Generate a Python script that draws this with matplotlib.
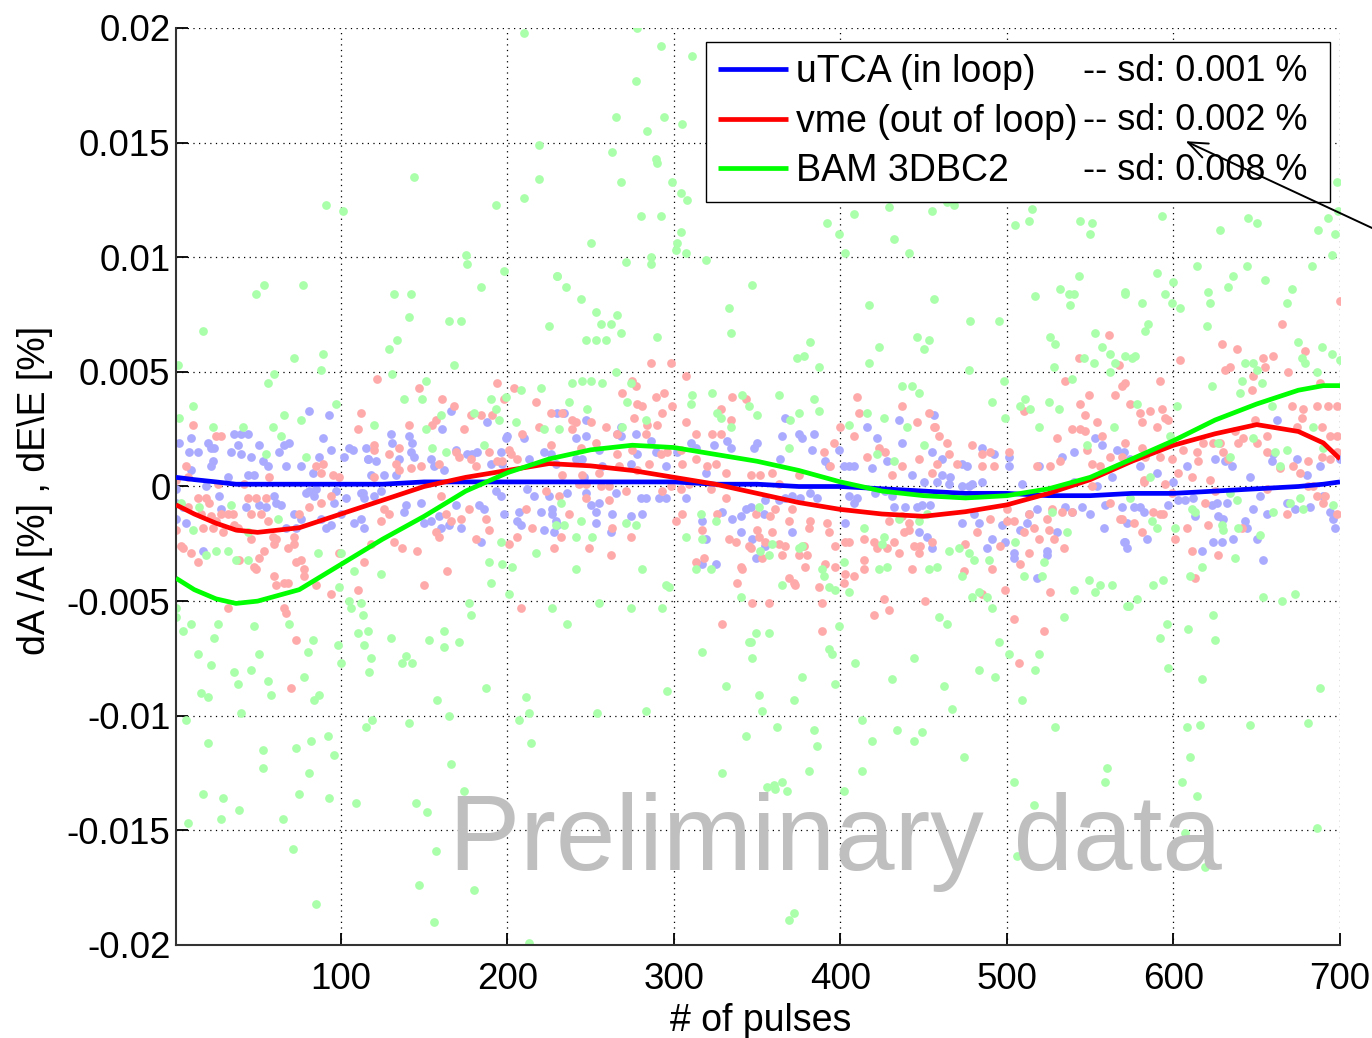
import matplotlib
matplotlib.use("Agg")
from matplotlib import pyplot as plt
import numpy as np

plt.rcParams['font.family'] = ['Liberation Sans', 'DejaVu Sans']

## fitted curves, common pulse grid
fit_x = [1, 12, 25, 37, 50, 75, 100, 125, 150, 175, 200, 225, 250, 275, 300, 325, 350,
         375, 400, 425, 450, 475, 500, 525, 550, 575, 600, 625, 650, 675, 690, 700]
utca_fit = [0.0004, 0.0003, 0.0002, 0.0001, 0.0001, 0.0001, 0.0001, 0.0001, 0.0002, 0.0002, 0.0002,
            0.0002, 0.0002, 0.0002, 0.0002, 0.0001, 0.0001, 0.0000, 0.0000, -0.0001, -0.0002, -0.0003,
            -0.0003, -0.0004, -0.0004, -0.0003, -0.0003, -0.0002, -0.0001, 0.0000, 0.0001, 0.0002]
vme_fit = [-0.0008, -0.0012, -0.0016, -0.0019, -0.0020, -0.0018, -0.0012, -0.0006, 0.0000, 0.0004, 0.0007,
           0.0010, 0.0009, 0.0007, 0.0004, 0.0001, -0.0003, -0.0007, -0.0010, -0.0012, -0.0013, -0.0011,
           -0.0008, -0.0003, 0.0003, 0.0011, 0.0018, 0.0023, 0.0027, 0.0024, 0.0019, 0.0012]
bam_fit = [-0.0040, -0.0045, -0.0049, -0.0051, -0.0050, -0.0045, -0.0034, -0.0023, -0.0013, -0.0002, 0.0006,
           0.0012, 0.0016, 0.0018, 0.0017, 0.0014, 0.0011, 0.0007, 0.0002, -0.0002, -0.0004, -0.0005,
           -0.0004, -0.0001, 0.0004, 0.0012, 0.0020, 0.0029, 0.0036, 0.0042, 0.0044, 0.0044]

## raw points (pulse, value)
utca_pts = [
    (81, .0033), (93, .0031), (3, .0019), (10, .0021), (9, .0015), (14, .0015), (20, .0019), (22, .0017),
    (24, .0017), (36, .0023), (40, .0023), (44, .0023), (38, .0018), (34, .0015), (40, .0014), (51, .0018),
    (46, .0013), (63, .0015), (66, .0018), (69, .0019), (89, .0021), (94, .0016), (53, .0011), (56, .0009),
    (67, .0009), (76, .0009), (83, .0006), (87, .0013), (22, .0009), (23, .0011), (10, .0007), (102, .0013),
    (105, .0017), (107, .0016), (115, .0017), (116, .0012), (32, .0004), (44, .0005), (48, .0005),
    (1, -.0001), (19, .0000), (27, -.0004), (1, -.0007), (5, -.0009), (7, -.0016), (1, -.0014), (28, -.0010),
    (43, -.0009), (51, -.0008), (55, -.0009), (60, -.0004), (61, -.0007), (64, -.0008), (72, -.0012),
    (79, -.0003), (81, -.0002), (84, -.0004), (67, -.0018), (73, -.0018), (76, -.0014), (17, -.0028),
    (88, -.0014), (91, -.0018), (94, -.0017), (85, -.0001), (97, -.0002), (103, -.0005), (112, -.0003),
    (114, -.0005), (96, -.0007), (100, -.0012), (112, -.0014), (108, -.0016), (114, -.0018),
    (130, .0023), (141, .0022), (131, .0019), (143, .0019), (116, .0012), (121, .0011), (135, .0012),
    (142, .0015), (144, .0013), (161, .0025), (166, .0033), (188, .0028), (154, .0012), (156, .0009),
    (162, .0007), (169, .0016), (179, .0014), (176, .0014), (182, .0015), (190, .0010), (197, .0010),
    (196, .0015), (200, .0022), (199, .0021), (210, .0021), (213, .0012), (222, .0015), (118, .0005),
    (126, .0005), (133, .0005), (230, .0032),
    (113, -.0003), (120, -.0004), (124, -.0002), (139, -.0008), (138, -.0011), (148, -.0007), (150, -.0016),
    (154, -.0015), (159, -.0013), (160, -.0018), (165, -.0017), (169, -.0008), (172, -.0018), (183, -.0008),
    (186, -.0010), (184, -.0024), (193, -.0002), (196, -.0004), (198, -.0012), (206, -.0015), (208, -.0017),
    (207, -.0011), (212, -.0001), (216, -.0004), (220, -.0011), (225, -.0004), (222, -.0019), (227, -.0010),
    (230, -.0017),
    (234, .0032), (247, .0029), (247, .0022), (266, .0023), (268, .0022), (268, .0026), (277, .0023),
    (286, .0020), (241, .0021), (226, .0014), (229, .0010), (255, .0016), (278, .0014), (289, .0015),
    (310, .0019), (313, .0017), (324, .0018), (332, .0020), (334, .0017), (302, .0015), (295, .0009),
    (274, .0010), (241, .0012), (245, .0012), (257, .0009), (246, .0004), (319, .0006),
    (236, -.0003), (247, -.0003), (250, -.0008), (253, -.0011), (255, -.0007), (253, -.0016), (263, -.0012),
    (262, -.0020), (265, -.0003), (274, -.0013), (281, -.0012), (280, -.0005), (283, -.0005), (291, -.0005),
    (295, -.0005), (227, -.0012), (229, -.0015), (228, -.0020), (307, -.0005), (317, -.0015), (319, -.0023),
    (317, -.0034), (325, -.0034), (329, -.0011), (335, -.0014), (340, -.0013), (343, -.0010), (340, -.0020),
    (367, .0030), (365, .0022), (348, .0017), (350, .0019), (375, .0023), (377, .0021), (384, .0023),
    (383, .0016), (364, .0012), (391, .0011), (393, .0009), (399, .0016), (402, .0009), (405, .0009),
    (408, .0009), (416, .0026), (422, .0021), (428, .0011), (419, .0008), (435, .0029), (437, .0019),
    (456, .0031), (455, .0015), (450, .0002), (443, .0005),
    (346, -.0009), (354, -.0012), (355, -.0006), (347, -.0023), (349, -.0031), (363, -.0006), (367, -.0005),
    (371, -.0004), (376, -.0005), (371, -.0020), (355, -.0026), (382, -.0003), (386, -.0005), (403, -.0016),
    (405, -.0004), (410, -.0005), (408, -.0007), (421, -.0003), (427, -.0002), (431, -.0004), (432, -.0009),
    (439, -.0009), (446, -.0009), (449, -.0008), (454, -.0008), (447, -.0020), (452, -.0022), (455, -.0027),
    (485, .0017), (492, .0014), (461, .0012), (473, .0010), (476, .0009), (461, .0005), (466, .0004),
    (479, .0001), (485, .0002), (501, .0013), (501, .0009), (509, .0001), (519, .0009), (533, .0013),
    (540, .0015), (553, .0021), (557, .0018), (566, .0016), (570, .0015), (563, .0004), (540, .0002),
    (458, .0002),
    (465, .0001), (473, .0000), (477, .0000), (480, -.0012), (483, -.0016), (473, -.0016), (491, -.0023),
    (488, -.0027), (497, -.0017), (499, -.0024), (504, -.0029), (504, -.0031), (508, -.0019), (512, -.0016),
    (513, -.0012), (518, -.0010), (524, -.0028), (524, -.0030), (530, -.0020), (518, -.0040), (535, -.0009),
    (539, -.0011), (545, -.0009), (550, -.0012), (558, -.0018), (559, -.0008), (569, -.0009), (571, -.0024),
    (572, -.0027), (554, .0000),
    (660, .0014), (659, .0011), (674, .0012), (688, .0009), (700, .0012), (646, .0004), (662, .0029),
    (680, .0005), (625, .0012), (631, .0011), (635, .0009), (608, .0009), (600, .0002), (590, .0006),
    (574, .0012), (580, .0009),
    (576, -.0009), (580, -.0009), (582, -.0011), (572, -.0016), (570, -.0024), (584, -.0023), (597, -.0008),
    (603, -.0006), (607, -.0006), (612, -.0005), (613, -.0013), (617, -.0028), (624, -.0024), (629, -.0024),
    (623, -.0008), (626, -.0007), (627, -.0013), (630, -.0014), (632, -.0007), (636, -.0023), (643, -.0015),
    (644, -.0018), (648, -.0010), (652, -.0004), (656, -.0012), (650, -.0023), (654, -.0032), (668, -.0007),
    (673, -.0010), (682, -.0009), (690, -.0004), (694, -.0011), (696, -.0014), (697, -.0018),
]

vme_pts = [
    (112, .0032), (110, .0025), (11, .0027), (25, .0022), (28, .0022), (7, .0009), (85, .0009), (89, .0010),
    (88, .0006), (1, .0003), (8, .0004), (57, .0004), (26, .0001), (42, .0001), (95, .0005), (99, .0004),
    (1, -.0019), (4, -.0026), (5, -.0027), (10, -.0029), (14, -.0033), (8, -.0009), (14, -.0005), (19, -.0005),
    (21, -.0007), (16, -.0012), (22, -.0013), (28, -.0012), (32, -.0012), (35, -.0012), (25, -.0015),
    (17, -.0018), (23, -.0018), (36, -.0017), (38, -.0018), (29, -.0020), (44, -.0005), (49, -.0005),
    (46, -.0012), (52, -.0012), (46, -.0023), (39, -.0032), (48, -.0035), (49, -.0036), (55, -.0005),
    (56, -.0015), (51, -.0031), (54, -.0028), (59, -.0022), (61, -.0023), (60, -.0025), (60, -.0039),
    (61, -.0043), (66, -.0042), (68, -.0042), (72, -.0022), (72, -.0025), (68, -.0027), (73, -.0033),
    (76, -.0032), (78, -.0036), (78, -.0039), (32, -.0053), (66, -.0053), (67, -.0055), (73, -.0067),
    (70, -.0088), (94, -.0047), (85, -.0043), (99, -.0029), (110, -.0045), (75, -.0012), (81, -.0009),
    (88, -.0007), (94, -.0004),
    (122, .0047), (147, .0043), (141, .0027), (161, .0038), (168, .0035), (157, .0029), (155, .0027),
    (174, .0025), (178, .0031), (184, .0031), (191, .0031), (194, .0045), (204, .0043), (198, .0038),
    (217, .0037), (226, .0032), (219, .0026), (209, .0023), (120, .0018), (120, .0016), (129, .0014),
    (135, .0017), (120, .0004), (133, .0010), (135, .0007), (142, .0008), (148, .0009), (159, .0010),
    (169, .0015), (171, .0013), (178, .0012), (181, .0009), (189, .0015), (194, .0011), (197, .0011),
    (201, .0016), (202, .0014), (206, .0012), (226, .0018),
    (114, -.0033), (118, -.0025), (126, -.0010), (129, -.0012), (124, -.0015), (132, -.0024), (137, -.0027),
    (146, -.0028), (150, -.0043), (164, -.0037), (157, -.0020), (159, -.0022), (163, -.0012), (166, -.0015),
    (160, -.0004), (172, -.0014), (181, -.0023), (187, -.0014), (189, -.0019), (177, -.0010), (201, -.0025),
    (208, -.0053), (206, -.0022), (211, -.0010), (215, -.0018), (228, -.0027), (223, -.0002),
    (286, .0054), (298, .0054), (307, .0048), (275, .0046), (277, .0044), (269, .0041), (289, .0039),
    (294, .0041), (278, .0036), (281, .0035), (299, .0035), (293, .0032), (233, .0032), (239, .0029),
    (241, .0028), (250, .0028), (259, .0026), (276, .0030), (284, .0027), (290, .0027), (307, .0028),
    (328, .0034), (334, .0029), (335, .0039), (343, .0038), (239, .0025), (266, .0023), (283, .0023),
    (313, .0023), (323, .0023), (328, .0023), (244, .0017), (253, .0019), (266, .0014), (275, .0016),
    (292, .0014), (296, .0015), (304, .0016), (305, .0010), (313, .0012), (320, .0009), (325, .0010),
    (331, .0006), (233, .0005), (245, .0005), (255, .0006), (267, .0009), (278, .0007), (285, .0010),
    (243, .0001), (247, .0001), (231, -.0004), (247, -.0005), (256, .0000), (261, .0000), (271, -.0002),
    (261, -.0006), (237, -.0012), (232, -.0022), (249, -.0027), (263, -.0018), (274, -.0022), (262, -.0030),
    (298, .0000), (293, -.0002), (304, -.0001), (309, .0001), (305, -.0012), (301, -.0015), (317, -.0019),
    (313, -.0033), (318, -.0031), (322, -.0001), (326, -.0012), (331, -.0005), (333, -.0023), (337, -.0024),
    (340, -.0035), (338, -.0042), (329, -.0060), (345, -.0026),
    (410, .0039), (437, .0035), (411, .0032), (453, .0032), (446, .0028), (457, .0026), (400, .0026),
    (408, .0022), (396, .0019), (390, .0015), (423, .0017), (427, .0015), (416, .0013), (394, .0009),
    (431, .0005), (437, .0009), (447, .0012), (455, .0006), (359, .0006), (352, .0005), (346, .0005),
    (363, .0001), (375, .0005),
    (361, -.0010), (369, -.0015), (371, -.0010), (349, -.0012), (358, -.0013), (359, -.0020), (350, -.0019),
    (351, -.0022), (355, -.0024), (346, -.0027), (353, -.0031), (363, -.0025), (367, -.0026), (365, -.0030),
    (375, -.0030), (380, -.0030), (379, -.0035), (369, -.0040), (372, -.0042), (373, -.0043), (341, -.0036),
    (347, -.0051), (357, -.0051), (382, -.0015), (381, -.0018), (378, -.0026), (392, -.0016), (393, -.0020),
    (391, -.0034), (387, -.0044), (389, -.0051), (389, -.0063), (397, -.0026), (403, -.0024), (405, -.0024),
    (397, -.0035), (403, -.0038), (408, -.0039), (402, -.0042), (414, -.0032), (414, -.0036), (414, -.0023),
    (420, -.0024), (422, -.0027), (428, -.0027), (432, -.0024), (435, -.0029), (426, -.0049), (429, -.0054),
    (420, -.0056), (443, -.0036), (438, -.0020), (441, -.0019), (444, -.0026), (448, -.0026), (451, -.0050),
    (447, -.0029), (455, -.0024), (429, -.0015), (437, -.0013), (441, -.0016),
    (561, .0066), (543, .0056), (567, .0053), (535, .0046), (571, .0045), (549, .0040), (565, .0040),
    (544, .0036), (510, .0033), (547, .0031), (554, .0028), (539, .0025), (544, .0025), (547, .0024),
    (557, .0022), (530, .0021), (548, .0016), (456, .0026), (459, .0022), (464, .0019), (479, .0018),
    (485, .0014), (490, .0015), (465, .0014), (470, .0010), (458, .0010), (485, .0009), (492, .0009),
    (501, .0015), (518, .0009), (526, .0009), (532, .0011), (551, .0010), (556, .0009), (562, .0013),
    (569, .0013),
    (500, -.0015), (504, -.0015), (510, -.0020), (513, -.0012), (516, -.0018), (524, -.0014), (525, -.0019),
    (519, -.0023), (528, -.0023), (534, -.0027), (513, -.0029), (475, -.0025), (482, -.0020), (496, -.0026),
    (491, -.0036), (508, -.0034), (474, -.0037), (499, -.0045), (526, -.0046), (485, -.0047), (504, -.0058),
    (522, -.0063), (507, -.0077), (490, -.0014), (500, -.0010), (527, -.0010), (533, -.0011), (539, -.0011),
    (562, -.0007), (568, -.0014), (551, .0000),
    (700, .0081), (665, .0071), (629, .0062), (638, .0060), (679, .0059), (604, .0055), (660, .0057),
    (654, .0056), (655, .0052), (631, .0051), (634, .0052), (669, .0050), (688, .0045), (592, .0046),
    (648, .0048), (647, .0042), (569, .0044), (574, .0036), (580, .0032), (581, .0028), (586, .0033),
    (593, .0034), (595, .0030), (597, .0029), (590, .0026), (671, .0035), (678, .0034), (686, .0035),
    (693, .0035), (698, .0035), (677, .0030), (674, .0026), (689, .0026), (694, .0022), (698, .0022),
    (637, .0024), (649, .0029), (656, .0022), (639, .0019), (642, .0021), (650, .0019), (656, .0015),
    (618, .0019), (624, .0019), (628, .0019), (606, .0016), (614, .0015), (615, .0011), (599, .0012),
    (592, .0013), (630, .0015), (633, .0012), (672, .0009), (676, .0006), (664, .0008), (681, .0011),
    (689, .0013), (694, .0012), (698, .0015), (622, .0003), (611, .0004), (603, .0006), (582, .0003),
    (571, .0019), (581, .0017), (583, .0013),
    (592, -.0012), (594, -.0012), (588, -.0011), (576, -.0016), (581, -.0020), (608, -.0018), (601, -.0023),
    (611, -.0028), (621, -.0017), (619, -.0007), (625, -.0002), (613, -.0040), (627, -.0030), (641, -.0018),
    (656, -.0001), (668, -.0012), (681, .0000), (684, .0000), (686, -.0004), (691, -.0004), (690, -.0007),
    (698, -.0012), (569, -.0014), (582, .0002), (595, .0001), (599, -.0003),
]

bam_pts = [
    (91, .0123), (101, .0120), (54, .0088), (49, .0084), (77, .0088), (17, .0068), (2, .0053), (89, .0058),
    (72, .0056), (88, .0051), (60, .0049), (56, .0045), (11, .0035), (3, .0030), (66, .0031), (97, .0036),
    (76, .0029), (23, .0026), (41, .0026), (59, .0026), (64, .0022), (55, .0014), (79, .0013),
    (4, -.0007), (34, -.0008), (15, -.0009), (62, -.0014), (11, -.0019), (44, -.0020), (25, -.0028),
    (32, -.0028), (19, -.0030), (86, -.0029), (44, -.0032), (37, -.0032), (1, -.0053), (1, -.0057),
    (10, -.0060), (5, -.0063), (26, -.0060), (48, -.0061), (69, -.0060), (24, -.0066), (83, -.0067),
    (14, -.0073), (51, -.0073), (80, -.0072), (22, -.0078), (36, -.0081), (46, -.0080), (78, -.0083),
    (56, -.0085), (38, -.0086), (16, -.0090), (20, -.0092), (58, -.0091), (87, -.0091), (84, -.0093),
    (40, -.0099), (7, -.0102), (20, -.0112), (53, -.0115), (73, -.0114), (82, -.0111), (92, -.0109),
    (96, -.0117), (53, -.0123), (81, -.0125), (17, -.0134), (29, -.0136), (75, -.0134), (93, -.0136),
    (109, -.0138), (39, -.0141), (8, -.0147), (28, -.0145), (65, -.0145), (71, -.0158), (85, -.0182),
    (99, -.0044), (105, -.0050), (106, -.0053), (112, -.0051), (113, -.0056), (98, -.0069), (100, -.0077),
    (110, -.0064), (115, -.0105), (100, -.0029), (108, -.0037),
    (210, .0198), (144, .0135), (219, .0149), (219, .0134), (210, .0126), (193, .0123), (175, .0101),
    (176, .0097), (198, .0094), (184, .0087), (132, .0084), (142, .0084), (141, .0074), (165, .0072),
    (172, .0072), (225, .0070), (230, .0092), (134, .0064), (129, .0060), (168, .0053), (131, .0049),
    (151, .0046), (138, .0038), (149, .0038), (120, .0027), (151, .0025), (160, .0031), (180, .0032),
    (190, .0038), (193, .0034), (195, .0029), (199, .0039), (208, .0042), (220, .0043), (205, .0028),
    (222, .0025), (155, .0017), (163, .0015), (186, .0018),
    (124, -.0038), (116, -.0063), (114, -.0069), (118, -.0075), (117, -.0081), (130, -.0066), (139, -.0074),
    (137, -.0077), (143, -.0077), (153, -.0067), (162, -.0063), (162, -.0070), (171, -.0068), (177, -.0051),
    (178, -.0056), (187, -.0088), (158, -.0093), (165, -.0100), (141, -.0103), (119, -.0102), (166, -.0121),
    (174, -.0133), (145, -.0138), (152, -.0142), (157, -.0159), (147, -.0174), (180, -.0176), (156, -.0190),
    (213, -.0199), (201, -.0047), (211, -.0092), (213, -.0099), (207, -.0102), (214, -.0112), (189, -.0033),
    (197, -.0034), (203, -.0035), (190, -.0042), (227, -.0053), (217, -.0029), (196, -.0024),
    (278, .0200), (292, .0192), (311, .0188), (277, .0177), (265, .0161), (294, .0161), (284, .0155),
    (305, .0158), (263, .0146), (289, .0143), (290, .0141), (268, .0133), (299, .0133), (304, .0128),
    (308, .0125), (280, .0118), (292, .0118), (304, .0111), (302, .0106), (301, .0103), (307, .0102),
    (250, .0106), (271, .0098), (286, .0100), (286, .0097), (319, .0099), (230, .0092), (235, .0087),
    (244, .0082), (253, .0076), (256, .0071), (262, .0071), (266, .0075), (268, .0067), (247, .0064),
    (253, .0064), (259, .0064), (290, .0065), (333, .0078), (334, .0067), (265, .0050), (239, .0045),
    (245, .0046), (250, .0046), (257, .0045), (274, .0045), (237, .0037), (248, .0034), (272, .0037),
    (311, .0040), (310, .0036), (323, .0041), (326, .0032), (328, .0030), (334, .0026), (341, .0040),
    (231, .0025), (283, .0029), (269, .0026),
    (232, -.0007), (244, -.0015), (229, -.0017), (234, -.0017), (241, -.0022), (251, -.0022), (271, -.0016),
    (277, -.0017), (241, -.0036), (281, -.0036), (295, -.0043), (297, -.0044), (255, -.0051), (274, -.0053),
    (293, -.0053), (236, -.0060), (317, -.0072), (331, -.0087), (296, -.0089), (254, -.0099), (283, -.0098),
    (343, -.0109), (329, -.0125), (345, -.0068), (307, -.0022), (317, -.0023), (322, -.0036), (313, -.0036),
    (325, -.0015), (340, -.0048), (316, -.0012),
    (429, .0122), (408, .0119), (455, .0120), (392, .0115), (399, .0110), (432, .0108), (403, .0102),
    (441, .0102), (347, .0088), (417, .0079), (456, .0082), (382, .0063), (374, .0056), (378, .0057),
    (387, .0052), (423, .0061), (417, .0054), (446, .0065), (453, .0064), (450, .0060), (437, .0044),
    (443, .0044), (447, .0041), (345, .0035), (350, .0031), (363, .0040), (375, .0032), (370, .0029),
    (384, .0038), (387, .0033), (416, .0032), (405, .0027), (426, .0030), (440, .0026), (369, .0017),
    (450, .0018), (422, .0014), (432, .0011),
    (351, -.0009), (359, -.0025), (352, -.0028), (357, -.0030), (375, -.0027), (377, -.0026), (389, -.0036),
    (390, -.0039), (402, -.0033), (393, -.0044), (397, -.0045), (405, -.0046), (365, -.0043), (414, -.0018),
    (426, -.0022), (425, -.0025), (423, -.0036), (428, -.0035), (453, -.0036), (435, -.0014), (447, -.0015),
    (452, -.0012), (399, -.0061), (349, -.0064), (346, -.0068), (357, -.0064), (347, -.0075), (393, -.0071),
    (395, -.0073), (409, -.0077), (444, -.0075), (377, -.0083), (397, -.0086), (431, -.0084), (351, -.0091),
    (372, -.0093), (353, -.0098), (413, -.0102), (362, -.0105), (384, -.0106), (386, -.0113), (419, -.0111),
    (434, -.0106), (444, -.0111), (449, -.0107), (381, -.0124), (413, -.0124), (356, -.0131), (360, -.0130),
    (361, -.0132), (365, -.0129), (368, -.0133), (402, -.0133), (369, -.0189), (372, -.0186), (459, -.0057),
    (464, .0124), (468, .0123), (515, .0121), (513, .0116), (505, .0114), (544, .0116), (551, .0115),
    (550, .0110), (543, .0092), (532, .0086), (537, .0084), (540, .0084), (538, .0079), (517, .0083),
    (571, .0085), (478, .0072), (495, .0072), (526, .0065), (529, .0062), (553, .0067), (557, .0061),
    (562, .0058), (546, .0056), (552, .0054), (565, .0054), (477, .0051), (528, .0052), (562, .0050),
    (498, .0046), (539, .0047), (491, .0037), (508, .0035), (511, .0038), (514, .0034), (525, .0037),
    (531, .0034), (499, .0030), (519, .0026), (564, .0026), (548, .0018),
    (465, -.0028), (471, -.0027), (477, -.0029), (480, -.0032), (489, -.0032), (458, -.0035), (473, -.0039),
    (505, -.0024), (522, -.0033), (510, -.0039), (521, -.0039), (479, -.0048), (483, -.0046), (488, -.0048),
    (491, -.0053), (527, -.0011), (536, -.0020), (540, -.0045), (549, -.0041), (553, -.0046), (556, -.0043),
    (563, -.0043), (572, -.0052), (464, -.0060), (534, -.0057), (495, -.0068), (501, -.0073), (519, -.0073),
    (483, -.0080), (493, -.0083), (517, -.0080), (462, -.0087), (509, -.0093), (467, -.0097), (529, -.0105),
    (474, -.0118), (560, -.0123), (559, -.0129), (504, -.0129), (516, -.0139), (506, -.0161),
    (698, .0133), (699, .0120), (693, .0117), (687, .0112), (697, .0110), (695, .0101), (593, .0118),
    (645, .0117), (650, .0115), (628, .0112), (614, .0096), (644, .0096), (683, .0096), (636, .0092),
    (633, .0087), (655, .0090), (590, .0093), (600, .0089), (595, .0084), (599, .0080), (604, .0078),
    (571, .0084), (581, .0080), (621, .0085), (622, .0080), (671, .0086), (668, .0080), (585, .0071),
    (583, .0068), (620, .0070), (675, .0063), (677, .0056), (679, .0054), (689, .0061), (695, .0058),
    (700, .0055), (571, .0057), (575, .0056), (577, .0057), (643, .0054), (648, .0054), (650, .0051),
    (686, .0050), (641, .0046), (653, .0045), (623, .0044), (640, .0041), (602, .0035), (578, .0036),
    (659, .0035), (684, .0026), (598, .0022), (627, .0019), (634, .0013), (648, .0021), (661, .0015),
    (664, .0009), (668, .0016), (690, .0017), (586, .0004),
    (574, -.0005), (587, -.0015), (590, -.0018), (601, -.0018), (611, -.0010), (613, -.0011), (629, -.0017),
    (630, -.0019), (634, -.0003), (638, -.0006), (639, -.0018), (652, -.0021), (660, -.0011), (670, -.0007),
    (676, -.0005), (678, -.0010), (696, -.0008), (637, -.0031), (617, -.0035), (610, -.0039), (594, -.0041),
    (588, -.0043), (578, -.0049), (573, -.0052), (654, -.0048), (665, -.0050), (673, -.0047), (624, -.0056),
    (596, -.0060), (609, -.0062), (592, -.0066), (625, -.0067), (597, -.0079), (617, -.0084), (688, -.0088),
    (608, -.0105), (616, -.0104), (646, -.0104), (681, -.0103), (610, -.0118), (605, -.0129), (614, -.0135),
    (607, -.0151), (686, -.0149), (619, -.0166),
]

labels = ['uTCA (in loop)', 'vme (out of loop)', 'BAM 3DBC2']
sd_labels = ['-- sd: 0.001 %', '-- sd: 0.002 %', '-- sd: 0.008 %']
y_ticks = [0.02, 0.015, 0.01, 0.005, 0, -0.005, -0.01, -0.015, -0.02]
y_ticklabels = ['0.02', '0.015', '0.01', '0.005', '0', '-0.005', '-0.01', '-0.015', '-0.02']
x_ticks = [100, 200, 300, 400, 500, 600, 700]

W, H = 1372, 1038
fig = plt.figure(figsize=(W / 100, H / 100), dpi=100)
ax = fig.add_axes([176 / W, 1 - 945 / H, 1164 / W, 917 / H])

## raw points first, light colours
for pts, col in [(utca_pts, '#aaaaff'), (vme_pts, '#ffaaaa'), (bam_pts, '#aaffaa')]:
    px, py = zip(*pts)
    ax.plot(px, py, 'o', color=col, markersize=6.3, markeredgewidth=0, zorder=2)

## fits on top
lines = []
for fit, col in [(utca_fit, '#0000ff'), (vme_fit, '#ff0000'), (bam_fit, '#00ff00')]:
    ln, = ax.plot(fit_x, fit, '-', color=col, lw=3.4, zorder=3, solid_capstyle='butt',
                  solid_joinstyle='round')
    lines.append(ln)

ax.set_xlim(1, 700)
ax.set_ylim(-0.02, 0.02)
ax.set_xticks(x_ticks)
ax.set_yticks(y_ticks)
ax.set_yticklabels(y_ticklabels)
ax.tick_params(direction='in', length=8.5, width=1.3, labelsize=26.5, colors='k')
ax.tick_params(axis='y', pad=4)
ax.tick_params(axis='x', pad=12)
ax.grid(True, linestyle=(0, (1, 3.5)), color='k', linewidth=0.9)
ax.set_axisbelow(True)
for side in ['top', 'right']:
    ax.spines[side].set_visible(False)
for side in ['left', 'bottom']:
    ax.spines[side].set_color('#333333')
    ax.spines[side].set_linewidth(1.5)

ax.set_xlabel('# of pulses', fontsize=27)
ax.xaxis.set_label_coords(0.5026, -0.063)
ax.set_ylabel(r'dA /A [%] , dE\E [%]', fontsize=27)
ax.yaxis.set_label_coords(-0.106, 0.496)

leg = ax.legend(lines, labels, loc='upper left', bbox_to_anchor=(0.4553, 0.8157, 0.5361, 0.169),
                mode='expand', fontsize=27, frameon=True, fancybox=False, handlelength=1.87,
                handletextpad=0.21, labelspacing=0.36, borderpad=0.33, borderaxespad=0,
                framealpha=1.0)
leg.get_frame().set_edgecolor('k')
leg.get_frame().set_linewidth(1.0)
for i, s in enumerate(sd_labels):
    ax.text(0.7792, [0.9531, 0.8986, 0.8451][i], s, transform=ax.transAxes, fontsize=26,
            va='center', ha='left', zorder=10)

## watermark
fig.text(835 / W, 1 - 870 / H, 'Preliminary data', fontsize=77, color='#bfbfbf',
         ha='center', va='baseline', zorder=20)

## arrow coming from outside the right edge, drawn over the legend
ax.annotate('', xy=(1183, H - 140), xycoords='figure pixels', xytext=(1400, H - 241),
            textcoords='figure pixels', annotation_clip=False, zorder=12,
            arrowprops=dict(arrowstyle='->,head_length=1.4,head_width=0.55', color='k', lw=1.4))

fig.savefig('out.png', dpi=100)
